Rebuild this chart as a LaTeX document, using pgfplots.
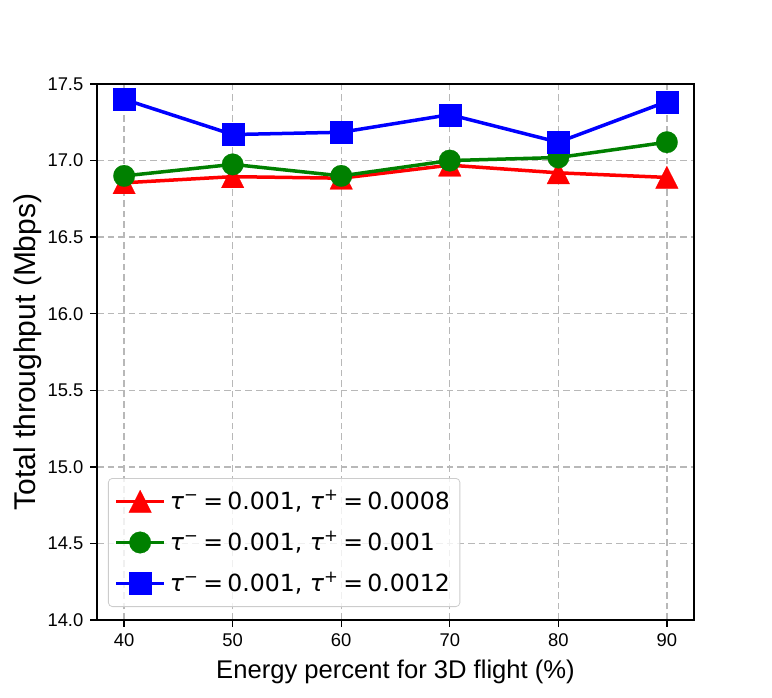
\documentclass[border=0pt]{standalone}
\usepackage{fontspec}
\setmainfont{Liberation Sans}
\newfontfamily\dejavu{DejaVu Sans}
\usepackage{pgfplots}
\pgfplotsset{compat=1.18}
\newcommand{\tauterm}[2]{{\dejavu\textit{τ}\textsuperscript{−}\hspace{0.18em}=\hspace{0.18em}#1, \textit{τ}\textsuperscript{+}\hspace{0.18em}=\hspace{0.18em}#2}}
\begin{document}
\begin{tikzpicture}
\begin{axis}[
  name=ax,
  scale only axis,
  width=298.5pt, height=268pt,
  xmin=37.5, xmax=92.5,
  ymin=14.0, ymax=17.5,
  xtick={40,50,60,70,80,90},
  ytick={14.0,14.5,15.0,15.5,16.0,16.5,17.0,17.5},
  yticklabel style={/pgf/number format/.cd,fixed,fixed zerofill,precision=1},
  /pgf/number format/assume math mode=true,
  tick label style={font=\fontsize{9.2}{11}\selectfont},
  tick align=outside, tick pos=left,
  major tick length=3.3pt,
  minor tick num=0,
  axis line style={line width=0.7pt, black},
  every tick/.style={black, line width=0.7pt},
  grid=major,
  major grid style={color=black!28, dash pattern=on 3.3pt off 2pt, line width=0.7pt},
  xlabel={Energy percent for 3D flight (\%)},
  ylabel={Total throughput (Mbps)},
  xlabel style={font=\fontsize{12.8}{15}\selectfont},
  ylabel style={font=\fontsize{15}{17}\selectfont, yshift=-4pt},
  legend cell align=left,
  legend style={at={(0,0)}, anchor=south west, xshift=5.5pt, yshift=6.5pt,
    draw=black!20, rounded corners=2pt, fill=white, fill opacity=0.8, text opacity=1,
    font=\fontsize{11.8}{14}\selectfont, row sep=5.5pt, inner xsep=3pt, inner ysep=4pt},
  legend image code/.code={
    \draw[#1, fill opacity=1, draw opacity=1, mark repeat=2, mark phase=2] plot coordinates {(0pt,0pt) (12pt,0pt) (24pt,0pt)};
  },
]
\addplot[color=red, line width=1.75pt, mark=triangle*, mark size=7.5pt,
  mark options={solid, fill=red, draw=red, line width=0.1pt, xscale=0.87, yshift=-1.8pt}]
  coordinates {(40,16.855) (50,16.895) (60,16.885) (70,16.97) (80,16.92) (90,16.89)};
\addlegendentry{\tauterm{0.001}{0.0008}}
\addplot[color=black!50!green, line width=1.75pt, mark=*, mark size=5.4pt,
  mark options={solid, fill=black!50!green, draw=black!50!green, line width=0.1pt}]
  coordinates {(40,16.90) (50,16.975) (60,16.90) (70,17.0) (80,17.02) (90,17.12)};
\addlegendentry{\tauterm{0.001}{0.001}}
\addplot[color=blue, line width=1.75pt, mark=square*, mark size=5.5pt,
  mark options={solid, fill=blue, draw=blue, line width=0.1pt}]
  coordinates {(40,17.40) (50,17.17) (60,17.185) (70,17.30) (80,17.12) (90,17.385)};
\addlegendentry{\tauterm{0.001}{0.0012}}
\end{axis}
\pgfresetboundingbox
\path ([shift={(-48.5pt,-38.5pt)}]ax.south west) rectangle ++(386pt,348.5pt);
\end{tikzpicture}
\end{document}
